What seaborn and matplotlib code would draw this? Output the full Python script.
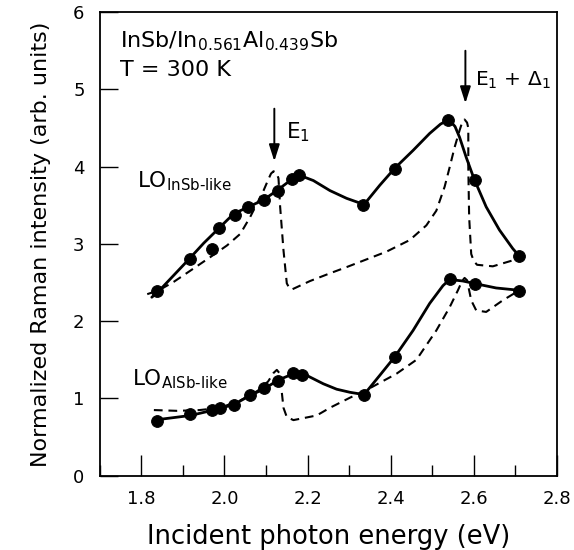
import matplotlib
matplotlib.use("Agg")
import matplotlib.pyplot as plt
import seaborn as sns
from matplotlib.ticker import MultipleLocator

# ---- data ----
E_insb = [1.838, 1.917, 1.969, 1.986, 2.025, 2.057, 2.094, 2.129, 2.162, 2.180, 2.334, 2.410, 2.538, 2.604, 2.710]
I_insb = [2.39, 2.80, 2.93, 3.21, 3.38, 3.48, 3.57, 3.69, 3.84, 3.89, 3.51, 3.97, 4.61, 3.83, 2.84]

E_alsb = [1.838, 1.917, 1.969, 1.990, 2.022, 2.061, 2.094, 2.130, 2.166, 2.186, 2.337, 2.410, 2.542, 2.602, 2.710]
I_alsb = [0.71, 0.80, 0.85, 0.88, 0.92, 1.04, 1.13, 1.23, 1.33, 1.31, 1.05, 1.54, 2.54, 2.48, 2.39]

# guide-to-eye solid curves
fit_insb_E = [1.825, 1.842, 1.914, 1.950, 1.986, 2.022, 2.058, 2.094, 2.126, 2.158, 2.180, 2.214, 2.254,
              2.294, 2.336, 2.374, 2.410, 2.454, 2.494, 2.520, 2.540, 2.555, 2.566, 2.582, 2.601, 2.630,
              2.662, 2.694, 2.710]
fit_insb_I = [2.31, 2.39, 2.80, 3.01, 3.20, 3.39, 3.48, 3.57, 3.69, 3.82, 3.89, 3.82, 3.69,
              3.59, 3.51, 3.76, 3.98, 4.21, 4.43, 4.55, 4.61, 4.52, 4.38, 4.12, 3.84, 3.48,
              3.18, 2.94, 2.84]

fit_alsb_E = [1.830, 1.918, 1.966, 2.022, 2.062, 2.094, 2.130, 2.166, 2.190, 2.238, 2.270, 2.302,
              2.336, 2.374, 2.410, 2.454, 2.494, 2.526, 2.542, 2.574, 2.600, 2.654, 2.710]
fit_alsb_I = [0.72, 0.78, 0.84, 0.92, 1.04, 1.12, 1.24, 1.32, 1.32, 1.19, 1.12, 1.08,
              1.05, 1.30, 1.54, 1.88, 2.23, 2.46, 2.54, 2.52, 2.49, 2.43, 2.40]

# calculated (dashed) curves
calc_insb_E = [1.814, 1.842, 1.878, 1.914, 1.966, 2.006, 2.038, 2.062, 2.094, 2.106, 2.112, 2.118, 2.125,
               2.130, 2.134, 2.142, 2.150, 2.156, 2.162, 2.206, 2.254, 2.294, 2.390, 2.446, 2.486,
               2.510, 2.530, 2.542, 2.554, 2.566, 2.572, 2.578, 2.584, 2.587, 2.587, 2.589, 2.594,
               2.600, 2.608, 2.646, 2.702]
calc_insb_I = [2.35, 2.40, 2.51, 2.64, 2.83, 2.98, 3.13, 3.35, 3.69, 3.84, 3.91, 3.94, 3.92,
               3.85, 3.48, 2.92, 2.49, 2.43, 2.41, 2.52, 2.62, 2.70, 2.90, 3.05, 3.24,
               3.43, 3.74, 3.99, 4.25, 4.47, 4.57, 4.61, 4.57, 4.50, 3.99, 3.35, 2.87,
               2.78, 2.73, 2.71, 2.80]

calc_alsb_E = [1.830, 1.886, 1.940, 1.990, 2.040, 2.080, 2.105, 2.118, 2.126, 2.132, 2.136, 2.142, 2.150,
               2.166, 2.222, 2.254, 2.302, 2.342, 2.414, 2.462, 2.510, 2.542, 2.562, 2.572, 2.578,
               2.584, 2.594, 2.606, 2.630, 2.670, 2.710]
calc_alsb_I = [0.85, 0.84, 0.85, 0.88, 0.98, 1.10, 1.22, 1.33, 1.37, 1.33, 1.18, 0.88, 0.76,
               0.72, 0.78, 0.88, 1.01, 1.11, 1.32, 1.50, 1.88, 2.18, 2.40, 2.52, 2.56,
               2.53, 2.27, 2.14, 2.12, 2.27, 2.40]

E1 = 2.120
E1D1 = 2.580

x_ticks = [1.8, 2.0, 2.2, 2.4, 2.6, 2.8]
x_ticklabels = ['1.8', '2.0', '2.2', '2.4', '2.6', '2.8']

# ---- style ----
sns.set_style("ticks")
plt.rcParams['font.family'] = ['DejaVu Sans']
plt.rcParams['mathtext.fontset'] = 'custom'
plt.rcParams['mathtext.rm'] = 'DejaVu Sans'
plt.rcParams['mathtext.it'] = 'DejaVu Sans:italic'
plt.rcParams['mathtext.bf'] = 'DejaVu Sans:bold'
plt.rcParams['text.color'] = 'black'
plt.rcParams['axes.labelcolor'] = 'black'
plt.rcParams['xtick.color'] = 'black'
plt.rcParams['ytick.color'] = 'black'

fig = plt.figure(figsize=(5.74, 5.5), dpi=100)
ax = fig.add_axes([0.174, 0.135, 0.796, 0.843])

dash = (0, (4.2, 2.8))
sns.lineplot(x=calc_insb_E, y=calc_insb_I, sort=False, estimator=None, ax=ax,
             color='black', lw=1.5, linestyle=dash)
sns.lineplot(x=calc_alsb_E, y=calc_alsb_I, sort=False, estimator=None, ax=ax,
             color='black', lw=1.5, linestyle=dash)
sns.lineplot(x=fit_insb_E, y=fit_insb_I, sort=False, estimator=None, ax=ax,
             color='black', lw=2.0, solid_joinstyle='round')
sns.lineplot(x=fit_alsb_E, y=fit_alsb_I, sort=False, estimator=None, ax=ax,
             color='black', lw=2.0, solid_joinstyle='round')
sns.scatterplot(x=E_insb, y=I_insb, ax=ax, color='black', s=72, edgecolor='black', zorder=4)
sns.scatterplot(x=E_alsb, y=I_alsb, ax=ax, color='black', s=72, edgecolor='black', zorder=4)

ax.set_xlim(1.7, 2.8)
ax.set_ylim(0, 6)
ax.set_xticks(x_ticks)
ax.set_xticklabels(x_ticklabels)
ax.xaxis.set_minor_locator(MultipleLocator(0.1))
ax.yaxis.set_major_locator(MultipleLocator(1))
ax.tick_params(axis='x', which='major', direction='in', length=15, width=1, labelsize=13, pad=10,
               top=False)
ax.tick_params(axis='x', which='minor', direction='in', length=8, width=1, top=False)
ax.tick_params(axis='y', which='major', direction='in', length=13, width=1, labelsize=13, pad=11,
               right=False)
for s in ax.spines.values():
    s.set_linewidth(1.3)
    s.set_color('black')

ax.set_xlabel('Incident photon energy (eV)', fontsize=18.5, labelpad=12)
ax.set_ylabel('Normalized Raman intensity (arb. units)', fontsize=16, labelpad=16)

ax.text(0.043, 0.962, r'InSb/In$_{0.561}$Al$_{0.439}$Sb', transform=ax.transAxes,
        fontsize=16, va='top', ha='left')
ax.text(0.043, 0.897, 'T = 300 K', transform=ax.transAxes, fontsize=16, va='top', ha='left')

ax.text(1.789, 3.73, r'LO$_{\text{InSb-like}}$', fontsize=15.5, va='baseline', ha='left')
ax.text(1.778, 1.17, r'LO$_{\text{AlSb-like}}$', fontsize=15.5, va='baseline', ha='left')

arrow_style = dict(arrowstyle='-|>,head_length=1.0,head_width=0.32', color='black', lw=1.4,
                   shrinkA=0, shrinkB=0)
ax.annotate('', xy=(E1, 4.07), xytext=(E1, 4.75), arrowprops=arrow_style)
ax.annotate('', xy=(E1D1, 4.82), xytext=(E1D1, 5.5), arrowprops=arrow_style)
ax.text(2.149, 4.37, r'E$_1$', fontsize=15.5, va='baseline', ha='left')
ax.text(2.602, 5.05, r'E$_1$ + $\Delta_1$', fontsize=14.5, va='baseline', ha='left')

fig.savefig('out.png', dpi=100)
